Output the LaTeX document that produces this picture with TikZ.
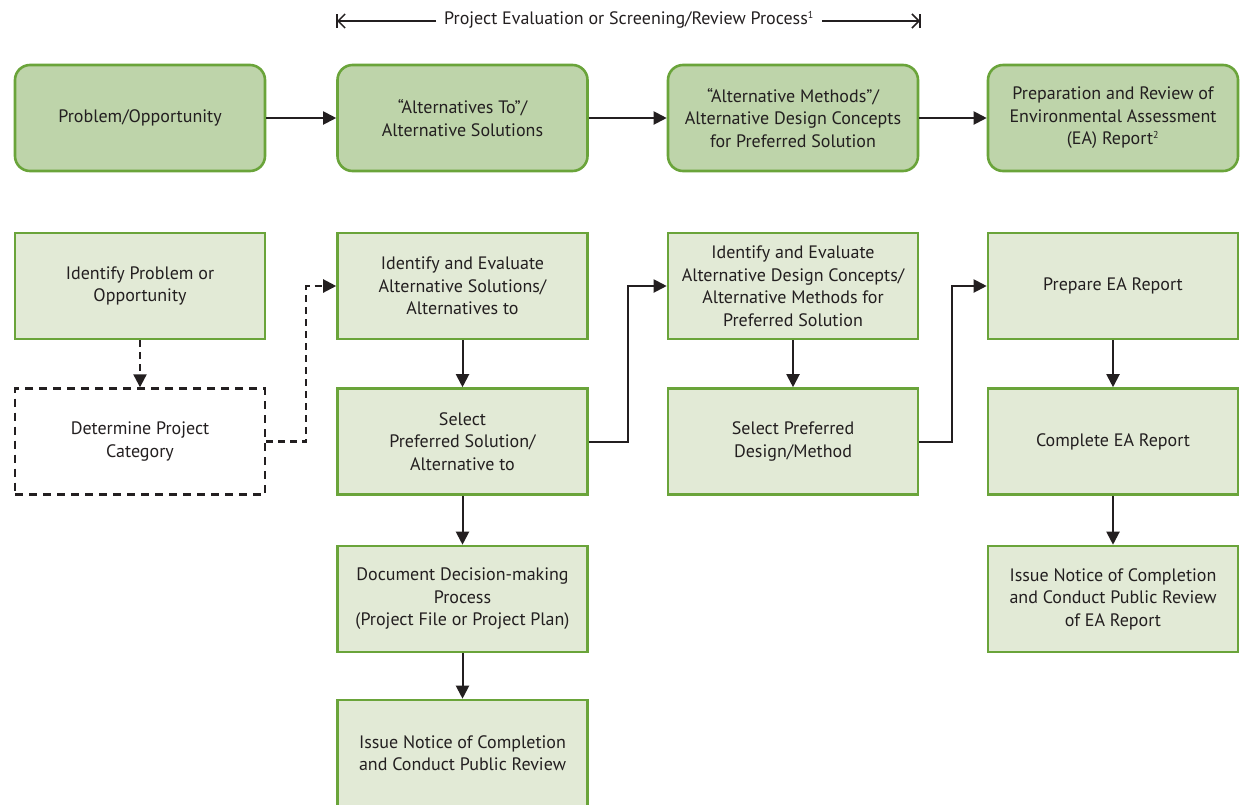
\documentclass[tikz,border=0pt]{standalone}
\usepackage{fontspec}
\setmainfont{PT Sans}
\usetikzlibrary{arrows.meta}
\definecolor{gborder}{RGB}{106,164,58}
\definecolor{gtop}{RGB}{190,212,170}
\definecolor{glight}{RGB}{226,234,214}
\definecolor{ink}{RGB}{35,31,32}
\begin{document}
\begin{tikzpicture}[x=1pt,y=-1pt,
  font=\fontsize{18}{22.5}\selectfont,
  every node/.style={text=ink},
  topbox/.style={draw=gborder, fill=gtop, line width=2.6pt, rounded corners=15pt,
    minimum width=250pt, minimum height=106pt, align=center, inner sep=0pt},
  lowbox/.style={draw=gborder, fill=glight, line width=2.6pt,
    minimum width=250pt, minimum height=106pt, align=center, inner sep=0pt},
  dashbox/.style={draw=ink, fill=white, line width=2.4pt, dash pattern=on 8pt off 6pt,
    minimum width=250pt, minimum height=106pt, align=center, inner sep=0pt},
  arr/.style={draw=ink, line width=2pt, -{Triangle[length=13pt,width=13pt]}},
  darr/.style={arr, line width=2.2pt, dash pattern=on 7pt off 5pt},
  hline/.style={draw=ink, line width=1.5pt, -{Straight Barb[length=7pt,width=14pt]}},
  hbar/.style={draw=ink, line width=1.5pt}
]
\useasboundingbox (0,0) rectangle (1241,804);

% header
\node[inner sep=8pt] (hdr) at (629,20) {Project Evaluation or Screening/Review Process\textsuperscript{\fontsize{10}{10}\selectfont 1}};
\coordinate (hl) at (337,21);
\coordinate (hr) at (920,21);
\coordinate (hlt) at (337,14);
\coordinate (hlb) at (337,28);
\coordinate (hrt) at (920,14);
\coordinate (hrb) at (920,28);
\draw[hline] (hdr.west |- hl) -- (hl);
\draw[hline] (hdr.east |- hr) -- (hr);
\draw[hbar] (hlt) -- (hlb);
\draw[hbar] (hrt) -- (hrb);

% top row
\node[topbox] (t1) at (140,118) {Problem/Opportunity};
\node[topbox] (t2) at (462.5,118) {“Alternatives To”/\\Alternative Solutions};
\node[topbox] (t3) at (793,118) {“Alternative Methods”/\\Alternative Design Concepts\\for Preferred Solution};
\node[topbox] (t4) at (1113,118) {Preparation and Review of\\Environmental Assessment\\(EA) Report\textsuperscript{\fontsize{10}{10}\selectfont 2}};

\draw[arr] (t1) -- (t2);
\draw[arr] (t2) -- (t3);
\draw[arr] (t3) -- (t4);

% column 1
\node[lowbox] (idp) at (140,286) {Identify Problem or\\Opportunity};
\node[dashbox] (det) at (140,441.5) {Determine Project\\Category};
\draw[darr] (idp) -- (det);

% column 2
\node[lowbox] (ide2) at (462.5,286) {Identify and Evaluate\\Alternative Solutions/\\Alternatives to};
\node[lowbox] (sel2) at (462.5,441.5) {Select\\Preferred Solution/\\Alternative to};
\node[lowbox] (doc) at (462.5,599) {Document Decision-making\\Process\\(Project File or Project Plan)};
\node[lowbox] (iss2) at (462.5,753) {Issue Notice of Completion\\and Conduct Public Review};
\draw[arr] (ide2) -- (sel2);
\draw[arr] (sel2) -- (doc);
\draw[arr] (doc) -- (iss2);

% column 3
\node[lowbox] (ide3) at (793,286) {Identify and Evaluate\\Alternative Design Concepts/\\Alternative Methods for\\Preferred Solution};
\node[lowbox] (sel3) at (793,441.5) {Select Preferred\\Design/Method};
\draw[arr] (ide3) -- (sel3);

% column 4
\node[lowbox] (prep) at (1113,286) {Prepare EA Report};
\node[lowbox] (comp) at (1113,441.5) {Complete EA Report};
\node[lowbox] (iss4) at (1113,599) {Issue Notice of Completion\\and Conduct Public Review\\of EA Report};
\draw[arr] (prep) -- (comp);
\draw[arr] (comp) -- (iss4);

% elbow connectors
\draw[darr] (det.east) -- ([xshift=40pt]det.east) |- (ide2.west);
\draw[arr] (sel2.east) -- ([xshift=39pt]sel2.east) |- (ide3.west);
\draw[arr] (sel3.east) -- ([xshift=33pt]sel3.east) |- (prep.west);
\end{tikzpicture}
\end{document}
